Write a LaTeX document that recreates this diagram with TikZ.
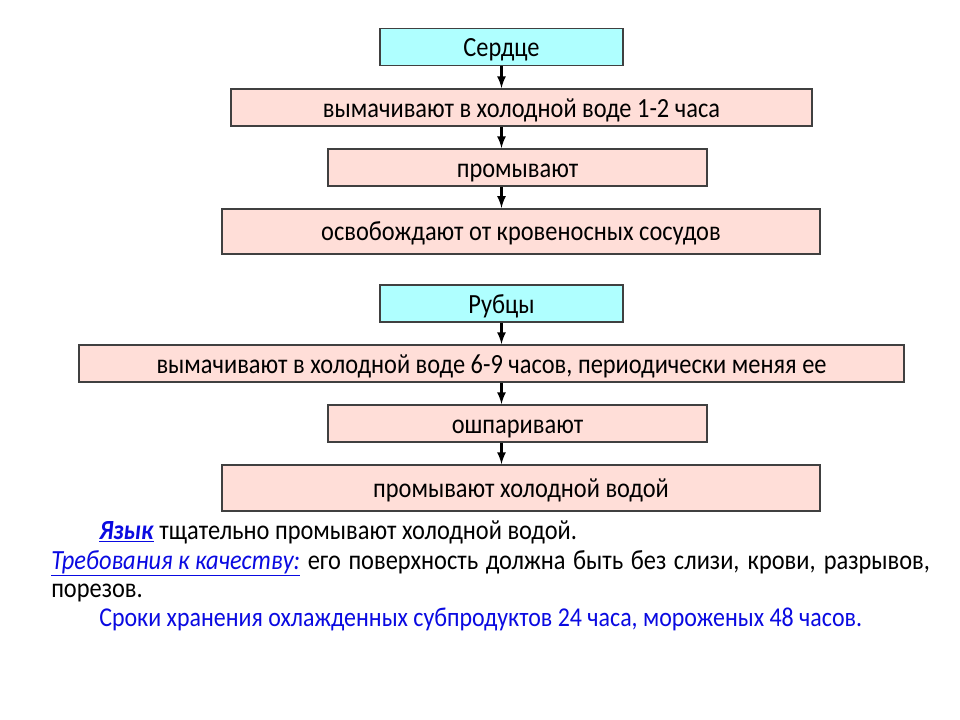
\documentclass[tikz,border=0pt]{standalone}
\usepackage{fontspec}
\setmainfont{Carlito}[FakeStretch=0.88]
\usepackage{tikz}
\usetikzlibrary{positioning}
\usepgflibrary{arrows}
\definecolor{headcyan}{RGB}{175,255,255}
\definecolor{steppink}{RGB}{255,222,216}
\definecolor{boxline}{RGB}{64,64,64}
\definecolor{textblue}{RGB}{10,10,225}

\begin{document}
\begin{tikzpicture}[x=0.75pt,y=-0.75pt,font=\fontsize{20.8}{24}\selectfont]
		\tikzstyle{headbox}=[rectangle, draw=boxline, line width=1.4pt, fill=headcyan, minimum height=27.8pt, text height=15pt, text depth=0pt]
		\tikzstyle{stepbox}=[rectangle, draw=boxline, line width=1.4pt, fill=steppink, minimum height=27.8pt, text height=15pt, text depth=0pt]
		\tikzstyle{tallbox}=[stepbox, minimum height=34pt, text height=14pt, text depth=0pt]
		\tikzstyle{flow}=[->, line width=2pt, color=black]
		\tikzset{>=latex}
		\useasboundingbox (0,0) rectangle (960,720);
		% heart
		\node[headbox, minimum width=182pt] (heart) at (501.5,47) {Сердце};
		\node[stepbox, minimum width=436pt] (hsoak) at (521.5,107.5) {вымачивают в холодной воде 1-2 часа};
		\node[stepbox, minimum width=284pt] (hwash) at (517.5,167.5) {промывают};
		\node[tallbox, minimum width=449pt] (hvessel) at (521,231.5) {освобождают от кровеносных сосудов};
		% tripe
		\node[headbox, minimum width=182pt] (tripe) at (501.5,303.5) {Рубцы};
		\node[stepbox, minimum width=619pt] (tsoak) at (491.5,363.5) {вымачивают в холодной воде 6-9 часов, периодически меняя ее};
		\node[stepbox, minimum width=284pt] (tscald) at (517.5,423.5) {ошпаривают};
		\node[tallbox, minimum width=449pt, minimum height=34.5pt] (twash) at (521,488) {промывают холодной водой};
		\draw[flow] (heart.south) -- (heart.south |- hsoak.north);
		\draw[flow] (heart.south |- hsoak.south) -- (heart.south |- hwash.north);
		\draw[flow] (heart.south |- hwash.south) -- (heart.south |- hvessel.north);
		\draw[flow] (tripe.south) -- (tripe.south |- tsoak.north);
		\draw[flow] (tripe.south |- tsoak.south) -- (tripe.south |- tscald.north);
		\draw[flow] (tripe.south |- tscald.south) -- (tripe.south |- twash.north);
		% notes
		\node[anchor=base west, inner sep=0pt] (tongue) at (99,539) {\textcolor{textblue}{\underline{\textbf{\textit{Язык}}}} тщательно промывают холодной водой.};
		\node[anchor=base west, inner sep=0pt] (quality) at (51,569) {\hbox to 659pt{\textcolor{textblue}{\underline{\textit{Требования к качеству:}}} его поверхность должна быть без слизи, крови, разрывов,}};
		\node[anchor=base west, inner sep=0pt] (cuts) at (51,597) {порезов.};
		\node[anchor=base west, inner sep=0pt, text=textblue, font=\fontsize{20.4}{24}\selectfont] (storage) at (99,626) {Сроки хранения охлажденных субпродуктов 24 часа, мороженых 48 часов.};
	\end{tikzpicture}
\end{document}
